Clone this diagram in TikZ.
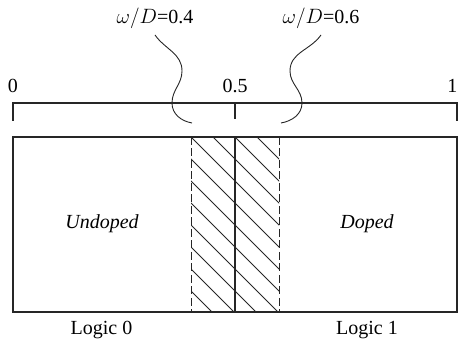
\documentclass[tikz,border=0pt]{standalone}
\usepackage{fontspec}
\setmainfont{Liberation Serif}
\begin{document}
\begin{tikzpicture}[x=1pt,y=1pt,
  ln/.style={draw=black!85, line width=1.1pt},
  thin/.style={draw=black!85, line width=0.9pt},
  dashline/.style={draw=black!85, line width=1pt, dash pattern=on 8pt off 3.5pt},
  txt/.style={font=\fontsize{20}{24}\selectfont, inner sep=1pt},
  wlbl/.style={txt, inner sep=0pt, outer ysep=6pt, anchor=south}]
\useasboundingbox (0,0) rectangle (458,345);

% main bar
\node[ln, draw, minimum width=444pt, minimum height=175pt, inner sep=0pt] (box) at (235,120.5) {};

% hatching
\coordinate (dlt) at (191,208); \coordinate (dlb) at (191,33);
\coordinate (drt) at (279,208); \coordinate (drb) at (279,33);
\begin{scope}
  \clip (dlb) rectangle (drt);
  \foreach \c in {245,267,...,465} \draw[thin] (\c-260,260) -- (\c,0);
\end{scope}
\draw[dashline] (dlt) -- (dlb);
\draw[dashline] (drt) -- (drb);
\draw[ln] (box.north) -- (box.south);

% scale
\coordinate (b0) at (13,242); \coordinate (b1) at (457,242); \coordinate (bm) at (235,242);
\coordinate (t0) at (13,224); \coordinate (t1) at (457,224); \coordinate (tm) at (235,226);
\draw[ln] (t0) -- (b0) -- (b1) -- (t1);
\draw[ln] (bm) -- (tm);
\node[txt] (s0) at (13,259) {0};
\node[txt] (s5) at (235,259) {0.5};
\node[txt, anchor=east, inner sep=0pt] (s1) at (457.5,259) {1};

% width labels and curves
\node[wlbl] (wl) at (155,310) {$\omega/D$=0.4};
\node[wlbl] (wr) at (321,310) {$\omega/D$=0.6};
\coordinate (la1) at (182,274); \coordinate (la2) at (172,242); \coordinate (la3) at (192,222);
\coordinate (ra1) at (290,274); \coordinate (ra2) at (302,242); \coordinate (ra3) at (281,222);
\draw[thin] (wl.south) to[out=-55,in=90] (la1) to[out=-90,in=90] (la2) to[out=-90,in=170] (la3);
\draw[thin] (wr.south) to[out=-125,in=90] (ra1) to[out=-90,in=90] (ra2) to[out=-90,in=10] (ra3);

% region labels
\node[txt] (und) at (102,121) {\textit{Undoped}};
\node[txt] (dop) at (367,121) {\textit{Doped}};
\node[txt] (lg0) at (101.5,15) {Logic 0};
\node[txt] (lg1) at (367,15) {Logic 1};
\end{tikzpicture}
\end{document}
